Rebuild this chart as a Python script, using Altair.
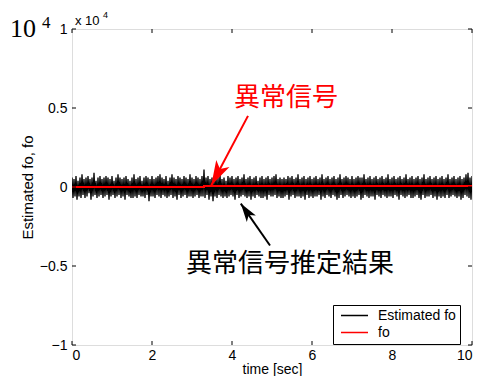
import math
import altair as alt
import pandas as pd

# ---------------- data (values in units of 10^4) ----------------
t_step = 0.025
est_fo = [
    0.06, -0.07, 0.05, -0.06, 0.07, -0.08, 0.04, -0.06, 0.06, -0.07,
    0.08, -0.05, 0.05, -0.07, 0.06, -0.06, 0.07, -0.04, 0.05, -0.08,
    0.06, -0.06, 0.09, -0.05, 0.04, -0.07, 0.06, -0.06, 0.07, -0.05,
    0.05, -0.07, 0.06, -0.06, 0.07, -0.05, 0.06, -0.08, 0.05, -0.06,
    0.07, -0.05, 0.04, -0.07, 0.06, -0.06, 0.08, -0.05, 0.06, -0.07,
    0.05, -0.06, 0.06, -0.08, 0.07, -0.05, 0.05, -0.06, 0.04, -0.07,
    0.06, -0.07, 0.08, -0.06, 0.05, -0.07, 0.06, -0.05, 0.07, -0.06,
    0.04, -0.06, 0.06, -0.07, 0.07, -0.05, 0.06, -0.09, 0.05, -0.06,
    0.07, -0.06, 0.05, -0.07, 0.06, -0.05, 0.07, -0.06, 0.08, -0.07,
    0.06, -0.05, 0.05, -0.06, 0.07, -0.07, 0.04, -0.06, 0.06, -0.05,
    0.08, -0.07, 0.06, -0.06, 0.05, -0.08, 0.07, -0.05, 0.06, -0.07,
    0.05, -0.06, 0.07, -0.05, 0.06, -0.07, 0.05, -0.06, 0.08, -0.06,
    0.06, -0.07, 0.05, -0.06, 0.07, -0.05, 0.06, -0.07, 0.05, -0.06,
    0.07, -0.06, 0.11, -0.07, 0.06, -0.05, 0.07, -0.08, 0.05, -0.06,
    0.06, -0.09, 0.05, -0.06, 0.07, -0.07, 0.06, -0.05, 0.08, -0.06,
    0.05, -0.07, 0.06, -0.06, 0.04, -0.07, 0.07, -0.06, 0.06, -0.05,
    0.07, -0.06, 0.05, -0.08, 0.06, -0.05, 0.07, -0.07, 0.05, -0.06,
    0.06, -0.05, 0.08, -0.06, 0.05, -0.07, 0.06, -0.06, 0.07, -0.08,
    0.05, -0.06, 0.06, -0.07, 0.07, -0.05, 0.04, -0.06, 0.06, -0.07,
    0.07, -0.07, 0.05, -0.06, 0.06, -0.08, 0.07, -0.05, 0.05, -0.06,
    0.06, -0.06, 0.07, -0.05, 0.08, -0.07, 0.05, -0.06, 0.06, -0.07,
    0.05, -0.07, 0.06, -0.06, 0.05, -0.05, 0.07, -0.08, 0.06, -0.06,
    0.07, -0.05, 0.05, -0.07, 0.06, -0.06, 0.08, -0.06, 0.05, -0.07,
    0.06, -0.06, 0.07, -0.08, 0.05, -0.05, 0.06, -0.07, 0.07, -0.06,
    0.05, -0.07, 0.06, -0.06, 0.07, -0.06, 0.05, -0.05, 0.06, -0.08,
    0.08, -0.06, 0.05, -0.07, 0.06, -0.05, 0.07, -0.06, 0.05, -0.07,
    0.06, -0.05, 0.07, -0.06, 0.05, -0.08, 0.06, -0.07, 0.08, -0.05,
    0.05, -0.07, 0.06, -0.06, 0.07, -0.05, 0.06, -0.06, 0.05, -0.07,
    0.07, -0.06, 0.05, -0.07, 0.06, -0.06, 0.07, -0.05, 0.06, -0.08,
    0.06, -0.07, 0.08, -0.05, 0.05, -0.06, 0.06, -0.07, 0.07, -0.06,
    0.05, -0.06, 0.06, -0.08, 0.07, -0.05, 0.05, -0.06, 0.06, -0.07,
    0.07, -0.05, 0.05, -0.06, 0.06, -0.07, 0.08, -0.06, 0.05, -0.06,
    0.06, -0.07, 0.07, -0.05, 0.05, -0.06, 0.06, -0.08, 0.07, -0.05,
    0.05, -0.06, 0.06, -0.07, 0.08, -0.06, 0.05, -0.05, 0.06, -0.07,
    0.07, -0.07, 0.05, -0.06, 0.06, -0.05, 0.07, -0.07, 0.05, -0.08,
    0.06, -0.05, 0.08, -0.07, 0.05, -0.06, 0.06, -0.06, 0.07, -0.05,
    0.05, -0.07, 0.06, -0.06, 0.07, -0.08, 0.05, -0.06, 0.06, -0.07,
    0.07, -0.06, 0.05, -0.07, 0.06, -0.05, 0.08, -0.07, 0.05, -0.06,
    0.06, -0.05, 0.07, -0.06, 0.05, -0.07, 0.06, -0.06, 0.07, -0.08,
    0.05, -0.07, 0.06, -0.05, 0.08, -0.06, 0.09, -0.07, 0.06, -0.08,
    0.07,
]
est_time = [round(i * t_step, 4) for i in range(len(est_fo))]

fo_time = [0.0, 3.3, 3.3, 10.0]
fo_vals = [0.0, 0.0, 0.006, 0.006]

series_names = ["Estimated fo", "fo"]
series_colors = ["black", "red"]

x_ticks = [0, 2, 4, 6, 8, 10]
y_ticks = [-1, -0.5, 0, 0.5, 1]

# annotations: text label and arrow (tail -> tip) in data coordinates
ann_text = ["異常信号", "異常信号推定結果"]
ann_text_x = [5.35, 5.45]
ann_text_y = [0.565, -0.49]
ann_color = ["red", "black"]
arrow_x = [4.40, 4.95]
arrow_y = [0.45, -0.37]
arrow_x2 = [3.48, 4.22]
arrow_y2 = [0.01, -0.105]
arrow_size = [620, 340]

W, H = 400, 316
XD, YD = [0, 10], [-1, 1]

# ---------------- frames ----------------
df_est = pd.DataFrame({"t": est_time, "v": est_fo, "s": series_names[0]})
df_fo = pd.DataFrame({"t": fo_time, "v": fo_vals, "s": series_names[1]})

FONT = "Liberation Sans"

xs = alt.Scale(domain=XD, nice=False, zero=False)
ys = alt.Scale(domain=YD, nice=False, zero=False)
legend = alt.Legend(
    title=None, orient="none", legendX=261, legendY=276,
    strokeColor="black", fillColor="white", padding=4,
    symbolType="stroke", symbolSize=729, symbolStrokeWidth=1.5, symbolOffset=3,
    clipHeight=13, rowPadding=2,
    labelFontSize=14, labelFont=FONT, labelColor="black", labelOffset=9,
    labelExpr="datum.label + '      '",
    cornerRadius=0,
)
color = alt.Color("s:N", scale=alt.Scale(domain=series_names, range=series_colors),
                  legend=legend)

x_axis = alt.Axis(values=x_ticks, title="time [sec]", ticks=False, domain=False, grid=False,
                  format="~f", labelPadding=3, titlePadding=0, labelFontSize=14, titleFontSize=14,
                  labelFont=FONT, titleFont=FONT, titleFontWeight="normal",
                  labelColor="black", titleColor="black")
y_axis = alt.Axis(values=y_ticks, title="Estimated fo, fo", ticks=False, domain=False, grid=False,
                  format="~f", labelPadding=5, titlePadding=4, labelFontSize=14, titleFontSize=15,
                  labelFont=FONT, titleFont=FONT, titleFontWeight="normal",
                  labelColor="black", titleColor="black")

est_line = alt.Chart(df_est).mark_line(strokeWidth=1.3, clip=True).encode(
    x=alt.X("t:Q", scale=xs, axis=x_axis),
    y=alt.Y("v:Q", scale=ys, axis=y_axis),
    color=color,
)
fo_line = alt.Chart(df_fo).mark_line(strokeWidth=2, clip=True).encode(
    x=alt.X("t:Q", scale=xs),
    y=alt.Y("v:Q", scale=ys),
    color=color,
)

# inward ticks on all four sides
dfx = pd.DataFrame({"t": x_ticks})
dfy = pd.DataFrame({"t": y_ticks})
tick_b = alt.Chart(dfx).mark_rule(color="black", strokeWidth=1).encode(
    x=alt.X("t:Q", scale=xs), y=alt.value(H), y2=alt.value(H - 4))
tick_t = alt.Chart(dfx).mark_rule(color="black", strokeWidth=1).encode(
    x=alt.X("t:Q", scale=xs), y=alt.value(0), y2=alt.value(4))
tick_l = alt.Chart(dfy).mark_rule(color="black", strokeWidth=1).encode(
    y=alt.Y("t:Q", scale=ys), x=alt.value(0), x2=alt.value(4))
tick_r = alt.Chart(dfy).mark_rule(color="black", strokeWidth=1).encode(
    y=alt.Y("t:Q", scale=ys), x=alt.value(W), x2=alt.value(W - 4))

ann_layers = []
for i in range(len(ann_text)):
    dx = (arrow_x2[i] - arrow_x[i]) * W / (XD[1] - XD[0])
    dy = -(arrow_y2[i] - arrow_y[i]) * H / (YD[1] - YD[0])
    ang = math.degrees(math.atan2(dx, -dy)) % 360
    d = pd.DataFrame({
        "text": [ann_text[i]], "tx": [ann_text_x[i]], "ty": [ann_text_y[i]],
        "x": [arrow_x[i]], "y": [arrow_y[i]], "x2": [arrow_x2[i]], "y2": [arrow_y2[i]],
    })
    base = alt.Chart(d)
    ann_layers.append(base.mark_rule(strokeWidth=2, color=ann_color[i]).encode(
        x=alt.X("x:Q", scale=xs), y=alt.Y("y:Q", scale=ys), x2="x2:Q", y2="y2:Q"))
    ann_layers.append(base.mark_point(
        shape="M0,0L0.6,2L0,1.5L-0.6,2Z", filled=True, opacity=1, strokeWidth=0,
        color=ann_color[i], angle=ang, size=arrow_size[i],
    ).encode(x=alt.X("x2:Q", scale=xs), y=alt.Y("y2:Q", scale=ys)))
    ann_layers.append(base.mark_text(
        font="Noto Sans CJK JP", fontSize=26, baseline="middle", align="center",
        color=ann_color[i],
    ).encode(x=alt.X("tx:Q", scale=xs), y=alt.Y("ty:Q", scale=ys), text="text:N"))

# exponent labels at the top-left
exp_df = pd.DataFrame({"a": [0]})
big10 = alt.Chart(exp_df).mark_text(text="10", font="Liberation Serif", fontSize=26,
                                    align="left", baseline="alphabetic", color="black").encode(
    x=alt.value(-62), y=alt.value(8))
big4 = alt.Chart(exp_df).mark_text(text="4", font="Liberation Serif", fontSize=17,
                                   align="left", baseline="alphabetic", color="black").encode(
    x=alt.value(-30), y=alt.value(-1))
small10 = alt.Chart(exp_df).mark_text(text="x 10", font=FONT, fontSize=13,
                                      align="left", baseline="alphabetic", color="black").encode(
    x=alt.value(3), y=alt.value(-4))
small4 = alt.Chart(exp_df).mark_text(text="4", font=FONT, fontSize=9,
                                     align="left", baseline="alphabetic", color="black").encode(
    x=alt.value(31), y=alt.value(-11))

chart = alt.layer(
    est_line, fo_line, tick_b, tick_t, tick_l, tick_r,
    *ann_layers, big10, big4, small10, small4,
).properties(
    width=W, height=H,
    autosize=alt.AutoSizeParams(type="none"),
    padding={"left": 64, "top": 21, "right": 3, "bottom": 31},
).configure_view(
    stroke="black", strokeWidth=1,
).configure(background="white")

chart.save("out.html", embed_options={"renderer": "svg", "actions": False})
